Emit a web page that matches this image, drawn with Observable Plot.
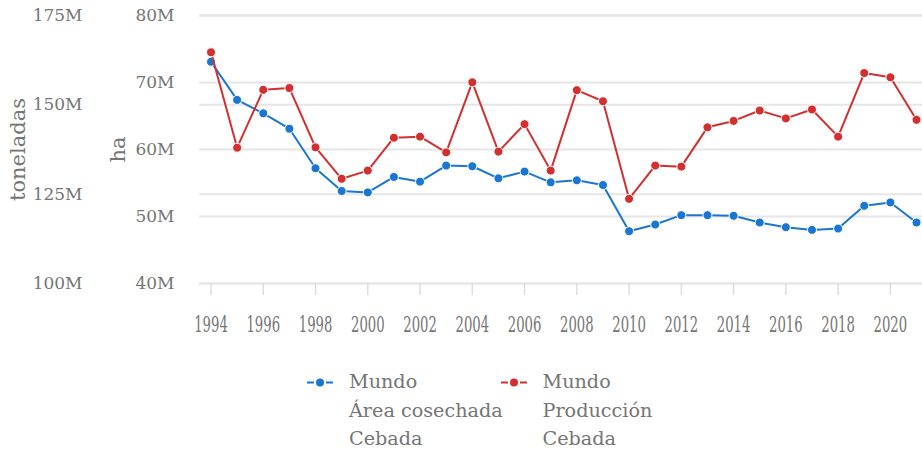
<!DOCTYPE html>
<html>
<head>
<meta charset="utf-8">
<script src="https://cdn.jsdelivr.net/npm/d3@7"></script>
<script src="https://cdn.jsdelivr.net/npm/@observablehq/plot@0.6"></script>
<style>
  html, body { margin: 0; padding: 0; background: #fff; }
  #chart { width: 922px; }
  #legend { display: flex; margin-top: 18px; padding-left: 307px; font-family: "DejaVu Serif", serif; font-size: 19.2px; line-height: 28.5px; color: #757575; white-space: nowrap; }
  .item { display: flex; align-items: flex-start; flex: none; }
  .item svg { flex: none; margin-right: 16px; }
</style>
</head>
<body>
<div id="chart"></div>
<div id="legend"></div>
<script>
// Data (millions)
const years = [1994,1995,1996,1997,1998,1999,2000,2001,2002,2003,2004,2005,2006,2007,2008,2009,2010,2011,2012,2013,2014,2015,2016,2017,2018,2019,2020,2021];
const areaHa = [73.1,67.4,65.4,63.1,57.2,53.8,53.6,55.9,55.2,57.6,57.5,55.7,56.7,55.1,55.4,54.7,47.8,48.8,50.2,50.2,50.1,49.1,48.4,48.0,48.2,51.6,52.1,49.1];
const prodT = [164.7,138.0,154.2,154.7,138.1,129.3,131.6,140.8,141.1,136.7,156.3,136.9,144.6,131.6,154.1,151.0,123.7,133.0,132.7,143.7,145.5,148.4,146.2,148.7,141.1,158.9,157.7,145.8];
const haTicks = [40, 50, 60, 70, 80];
const tonTicks = [100, 125, 150, 175];
const xTicks = [1994,1996,1998,2000,2002,2004,2006,2008,2010,2012,2014,2016,2018,2020];
const seriesNames = [["Mundo", "Área cosechada", "Cebada"], ["Mundo", "Producción", "Cebada"]];
const colors = ["#1976d2", "#d32f2f"];

// map toneladas (100M–175M) onto the ha scale (40M–80M)
const toHa = t => 40 + (t - 100) * 40 / 75;
const fromHa = h => Math.round(100 + (h - 40) * 75 / 40);

const rows = years.map((y, i) => ({year: y, area: areaHa[i], prod: toHa(prodT[i])}));

const font = "DejaVu Serif, serif";
const chart = Plot.plot({
  width: 922,
  height: 350,
  marginLeft: 199,
  marginRight: 0,
  marginTop: 15,
  marginBottom: 67,
  style: {fontFamily: font, fontSize: "17px", color: "#757575", background: "white", overflow: "visible"},
  x: {domain: [1994, 2021], insetLeft: 11.5, insetRight: 6},
  y: {domain: [40, 80]},
  marks: [
    Plot.ruleY(haTicks, {stroke: "#e6e6e6", strokeWidth: 2}),
    Plot.ruleY(tonTicks.map(toHa), {stroke: "#e6e6e6", strokeWidth: 2}),
    Plot.axisY(haTicks, {anchor: "left", tickSize: 0, tickPadding: 25, tickFormat: d => d + "M", label: null, fill: "#757575", fontSize: 17}),
    Plot.axisY(tonTicks.map(toHa), {anchor: "left", tickSize: 0, tickPadding: 117, tickFormat: d => fromHa(d) + "M", label: null, fill: "#757575", fontSize: 17}),
    Plot.text(["ha"], {frameAnchor: "left", rotate: -90, dx: -81, text: d => d, fill: "#757575", fontSize: 21, textAnchor: "middle", lineAnchor: "middle"}),
    Plot.text(["toneladas"], {frameAnchor: "left", rotate: -90, dx: -181, text: d => d, fill: "#757575", fontSize: 21, textAnchor: "middle", lineAnchor: "middle"}),
    Plot.axisX(xTicks, {anchor: "bottom", tickSize: 12, tickPadding: 21, stroke: "#dddddd", strokeWidth: 1.5, fill: "#757575", fontSize: 22, tickFormat: d => String(d), label: null}),
    Plot.line(rows, {x: "year", y: "area", stroke: colors[0], strokeWidth: 2}),
    Plot.dot(rows, {x: "year", y: "area", r: 4.5, fill: colors[0], stroke: "white", strokeWidth: 1}),
    Plot.line(rows, {x: "year", y: "prod", stroke: colors[1], strokeWidth: 2}),
    Plot.dot(rows, {x: "year", y: "prod", r: 4.5, fill: colors[1], stroke: "white", strokeWidth: 1})
  ]
});
// horizontally condensed year labels, as in the reference
d3.select(chart).selectAll('g[aria-label="x-axis tick label"] text').each(function() {
  const t = this.getAttribute("transform") || "";
  this.setAttribute("transform", t + " scale(0.6,1)");
});
document.getElementById("chart").appendChild(chart);

// Legend
const legend = d3.select("#legend");
seriesNames.forEach((lines, k) => {
  const item = legend.append("div").attr("class", "item").style("width", k === 0 ? "193.5px" : null);
  const sw = item.append("svg").attr("width", 26).attr("height", 28.5);
  sw.append("line").attr("x1", 0).attr("x2", 26).attr("y1", 14.5).attr("y2", 14.5)
    .attr("stroke", colors[k]).attr("stroke-width", 2).attr("stroke-dasharray", "7,12");
  sw.append("circle").attr("cx", 13).attr("cy", 14.5).attr("r", 4).attr("fill", colors[k]);
  const txt = item.append("div");
  lines.forEach(l => txt.append("div").text(l));
});
</script>
</body>
</html>
